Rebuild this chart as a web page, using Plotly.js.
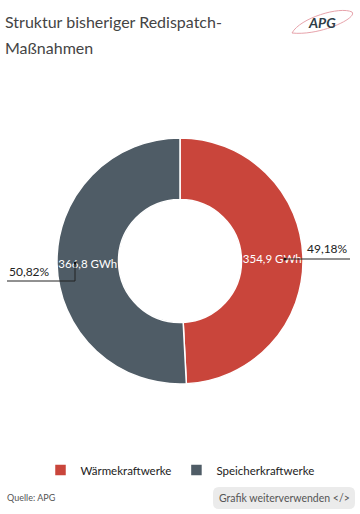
<!DOCTYPE html>
<html>
<head>
<meta charset="utf-8">
<script src="https://cdn.plot.ly/plotly-3.0.1.min.js"></script>
<style>html,body{margin:0;padding:0;background:#fff;}#chart{width:360px;height:514px;}</style>
</head>
<body>
<div id="chart"></div>
<script>
const categories = ["Wärmekraftwerke", "Speicherkraftwerke"];
const valuesGWh = [354.9, 366.8];
const colors = ["#c9453b", "#4f5c66"];
const titleLines = ["Struktur bisheriger Redispatch-", "Maßnahmen"];
const sourceText = "Quelle: APG";

const W = 360, H = 514, T = 138, B = 130;
const PH = H - T - B;
const px = v => v / W;
const py = v => (H - B - v) / PH;

const total = valuesGWh.reduce((a, b) => a + b, 0);
const fmt = (v, d) => v.toFixed(d).replace(".", ",");
const valueText = valuesGWh.map(v => fmt(v, 1) + " GWh");
const pctText = valuesGWh.map(v => fmt(v / total * 100, 2) + "%");

const font = "Lato, 'Open Sans', sans-serif";

const trace = {
  type: "pie",
  labels: categories,
  values: valuesGWh,
  text: valueText,
  textinfo: "text",
  textposition: "inside",
  insidetextorientation: "horizontal",
  textfont: {family: font, size: 11.5, color: "#ffffff"},
  hole: 0.5,
  sort: false,
  direction: "clockwise",
  rotation: 0,
  marker: {colors: colors, line: {color: "#ffffff", width: 1.5}},
  hoverinfo: "none"
};

const annotations = [
  {text: titleLines[0], x: px(3), y: py(21), xref: "paper", yref: "paper", xanchor: "left", yanchor: "middle", showarrow: false, font: {family: font, size: 16, color: "#444"}},
  {text: titleLines[1], x: px(3), y: py(48), xref: "paper", yref: "paper", xanchor: "left", yanchor: "middle", showarrow: false, font: {family: font, size: 16, color: "#444"}},
  {text: pctText[0], x: px(350), y: py(248), xref: "paper", yref: "paper", xanchor: "right", yanchor: "middle", showarrow: false, font: {family: font, size: 12, color: "#222"}},
  {text: pctText[1], x: px(7), y: py(271), xref: "paper", yref: "paper", xanchor: "left", yanchor: "middle", showarrow: false, font: {family: font, size: 12, color: "#222"}},
  {text: sourceText, x: px(5), y: py(497), xref: "paper", yref: "paper", xanchor: "left", yanchor: "middle", showarrow: false, font: {family: font, size: 9, color: "#555"}},
  {text: "Grafik weiterverwenden &lt;/&gt;", x: px(284), y: py(498), xref: "paper", yref: "paper", xanchor: "center", yanchor: "middle", showarrow: false, font: {family: font, size: 10.5, color: "#555"}},
  {text: "<i><b>APG</b></i>", x: px(322), y: py(22), xref: "paper", yref: "paper", xanchor: "center", yanchor: "middle", showarrow: false, font: {family: font, size: 14, color: "#2e3d47"}}
];

const r = 6;
const bx0 = 213, bx1 = 355, by0 = 487, by1 = 509;
const buttonPath = `M ${px(bx0 + r)},${py(by0)} L ${px(bx1 - r)},${py(by0)} Q ${px(bx1)},${py(by0)} ${px(bx1)},${py(by0 + r)} L ${px(bx1)},${py(by1 - r)} Q ${px(bx1)},${py(by1)} ${px(bx1 - r)},${py(by1)} L ${px(bx0 + r)},${py(by1)} Q ${px(bx0)},${py(by1)} ${px(bx0)},${py(by1 - r)} L ${px(bx0)},${py(by0 + r)} Q ${px(bx0)},${py(by0)} ${px(bx0 + r)},${py(by0)} Z`;
const swoosh = `M ${px(292)},${py(33)} C ${px(300)},${py(18)} ${px(340)},${py(6)} ${px(352)},${py(12)} C ${px(358)},${py(18)} ${px(320)},${py(36)} ${px(292)},${py(33)} Z`;

const shapes = [
  {type: "path", path: buttonPath, xref: "paper", yref: "paper", fillcolor: "#ebebeb", line: {width: 0}, layer: "below"},
  {type: "path", path: swoosh, xref: "paper", yref: "paper", fillcolor: "rgba(0,0,0,0)", line: {color: "#e7a3ab", width: 1}},
  {type: "line", x0: px(285), y0: py(259), x1: px(350), y1: py(259), xref: "paper", yref: "paper", line: {color: "#222", width: 1}},
  {type: "path", path: `M ${px(75)},${py(263)} L ${px(75)},${py(281)} L ${px(7)},${py(281)}`, xref: "paper", yref: "paper", line: {color: "#222", width: 1}},
  {type: "circle", x0: px(283.5), x1: px(286.5), y0: py(257.5), y1: py(260.5), xref: "paper", yref: "paper", fillcolor: "#111", line: {width: 0}},
  {type: "circle", x0: px(73.5), x1: px(76.5), y0: py(261.5), y1: py(264.5), xref: "paper", yref: "paper", fillcolor: "#111", line: {width: 0}}
];

const layout = {
  width: W, height: H,
  margin: {l: 0, r: 0, t: T, b: B},
  paper_bgcolor: "#ffffff",
  showlegend: true,
  legend: {orientation: "h", x: 0.5, xanchor: "center", y: py(470), yanchor: "middle", font: {family: font, size: 11.5, color: "#222"}, traceorder: "normal"},
  annotations: annotations,
  shapes: shapes,
  font: {family: font}
};

Plotly.newPlot("chart", [trace], layout, {displayModeBar: false, staticPlot: true});
</script>
</body>
</html>
